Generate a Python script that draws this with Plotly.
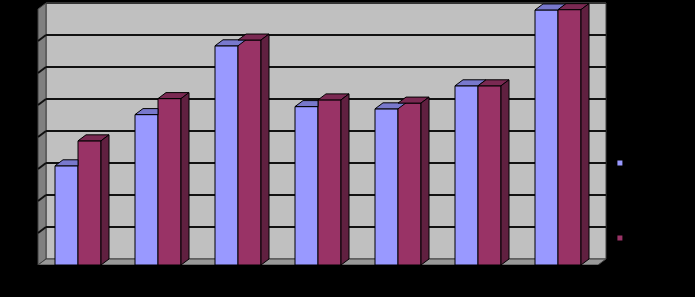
import plotly.graph_objects as go

categories = ["1", "2", "3", "4", "5", "6", "7"]
series_names = ["Series 1", "Series 2"]
series_a = [31.0, 47.0, 68.5, 49.5, 48.8, 56.0, 79.7]
series_b = [38.8, 52.0, 70.3, 51.6, 50.6, 56.0, 79.8]
y_ticks = [0, 10, 20, 30, 40, 50, 60, 70, 80]

# styling / geometry (pseudo-3D)
W = 0.2875          # bar width in category units
DX = 0.1            # depth offset in x (category units)
DY = 1.875          # depth offset in y (value units)
C_A, C_A_TOP, C_A_SIDE = "#9999FF", "#7878CC", "#5C5C99"
C_B, C_B_TOP, C_B_SIDE = "#993366", "#7A2952", "#602040"

idx = list(range(len(categories)))

fig = go.Figure()

fig.add_trace(go.Bar(x=idx, y=series_a, width=W, offset=-W, marker=dict(color=C_A, line=dict(color="black", width=1)),
                     showlegend=False, hoverinfo="skip"))
fig.add_trace(go.Bar(x=idx, y=series_b, width=W, offset=0, marker=dict(color=C_B, line=dict(color="black", width=1)),
                     showlegend=False, hoverinfo="skip"))

def poly_trace(xs, ys, fill):
    return go.Scatter(x=xs, y=ys, mode="lines", fill="toself", fillcolor=fill,
                      line=dict(color="black", width=1), showlegend=False, hoverinfo="skip")

a_top_x, a_top_y, a_side_x, a_side_y = [], [], [], []
b_top_x, b_top_y, b_side_x, b_side_y = [], [], [], []
for i, h, h2 in zip(idx, series_a, series_b):
    x0, x1 = i - W, i
    if h2 >= h + DY:
        a_top_x += [x0, x1, x1, x0 + DX, x0, None]
        a_top_y += [h, h, h + DY, h + DY, h, None]
    else:
        a_top_x += [x0, x1, x1 + DX, x0 + DX, x0, None]
        a_top_y += [h, h, h + DY, h + DY, h, None]
    if h > h2:
        a_side_x += [x1, x1, x1 + DX, x1 + DX, x1, None]
        a_side_y += [h2, h, h + DY, h2, h2, None]
    bx0, bx1 = i, i + W
    b_top_x += [bx0, bx1, bx1 + DX, bx0 + DX, bx0, None]
    b_top_y += [h2, h2, h2 + DY, h2 + DY, h2, None]
    b_side_x += [bx1, bx1, bx1 + DX, bx1 + DX, bx1, None]
    b_side_y += [0, h2, h2 + DY, DY, 0, None]

fig.add_trace(poly_trace(a_top_x, a_top_y, C_A_TOP))
if a_side_x:
    fig.add_trace(poly_trace(a_side_x, a_side_y, C_A_SIDE))
fig.add_trace(poly_trace(b_top_x, b_top_y, C_B_TOP))
fig.add_trace(poly_trace(b_side_x, b_side_y, C_B_SIDE))

# legend dummies
fig.add_trace(go.Scatter(x=[None], y=[None], mode="markers", name=series_names[0], legend="legend",
                         marker=dict(symbol="square", size=5, color=C_A)))
fig.add_trace(go.Scatter(x=[None], y=[None], mode="markers", name=series_names[1], legend="legend2",
                         marker=dict(symbol="square", size=5, color=C_B)))

xmin, xmax = -0.5, len(categories) - 0.5
top = y_ticks[-1]
shapes = []
# back wall
shapes.append(dict(type="rect", xref="x", yref="y", x0=xmin + DX, x1=xmax + DX, y0=DY, y1=top + DY,
                   fillcolor="#C0C0C0", line=dict(color="#404040", width=1), layer="below"))
# left wall
shapes.append(dict(type="path", xref="x", yref="y",
                   path=f"M{xmin},0 L{xmin + DX},{DY} L{xmin + DX},{top + DY} L{xmin},{top} Z",
                   fillcolor="#808080", line=dict(color="#404040", width=1), layer="below"))
# floor
shapes.append(dict(type="path", xref="x", yref="y",
                   path=f"M{xmin},0 L{xmax},0 L{xmax + DX},{DY} L{xmin + DX},{DY} Z",
                   fillcolor="#999999", line=dict(color="#404040", width=1), layer="below"))
for v in y_ticks[1:-1]:
    shapes.append(dict(type="line", xref="x", yref="y", x0=xmin + DX, x1=xmax + DX, y0=v + DY, y1=v + DY,
                       line=dict(color="#111111", width=2), layer="below"))
    shapes.append(dict(type="line", xref="x", yref="y", x0=xmin, x1=xmin + DX, y0=v, y1=v + DY,
                       line=dict(color="#111111", width=2), layer="below"))
shapes.append(dict(type="line", xref="x", yref="y", x0=xmin + DX, x1=xmax + DX, y0=top + DY, y1=top + DY,
                   line=dict(color="#333333", width=2), layer="below"))

fig.update_layout(
    width=695, height=297,
    margin=dict(l=30, r=87, t=2, b=32, pad=0),
    paper_bgcolor="black", plot_bgcolor="black",
    barmode="overlay",
    shapes=shapes,
    font=dict(family="Liberation Sans, Arial, sans-serif", size=10, color="black"),
    xaxis=dict(range=[-0.6, 6.625], tickvals=idx, ticktext=categories, showgrid=False, zeroline=False,
               showline=False, ticks="", tickfont=dict(color="black", size=10), fixedrange=True),
    yaxis=dict(range=[0, 82.1875], tickvals=y_ticks, showgrid=False, zeroline=False, showline=False,
               ticks="", tickfont=dict(color="black", size=10), fixedrange=True),
    legend=dict(x=0.986, y=0.388, xanchor="left", yanchor="middle", bgcolor="rgba(0,0,0,0)",
                font=dict(color="black", size=10)),
    legend2=dict(x=0.986, y=0.1027, xanchor="left", yanchor="middle", bgcolor="rgba(0,0,0,0)",
                 font=dict(color="black", size=10)),
)

fig.write_html("out.html")
